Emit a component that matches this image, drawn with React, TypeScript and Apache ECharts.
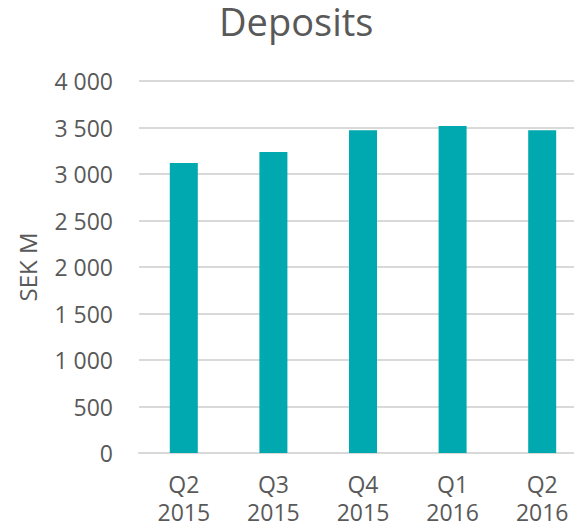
import React, { useEffect, useRef } from "react";
import * as echarts from "echarts";

const categories = ["Q2\n2015", "Q3\n2015", "Q4\n2015", "Q1\n2016", "Q2\n2016"];
const deposits = [3118, 3237, 3470, 3516, 3470];
const yTicks = { min: 0, max: 4000, interval: 500 };

const TEXT = "#595959";
const FONT = "'Open Sans', sans-serif";

export default function App() {
  const ref = useRef<HTMLDivElement>(null);
  useEffect(() => {
    if (!ref.current) return;
    const chart = echarts.init(ref.current, undefined, { renderer: "svg" });
    chart.setOption({
      animation: false,
      backgroundColor: "#ffffff",
      textStyle: { fontFamily: FONT },
      title: {
        text: "Deposits",
        left: 219,
        top: 2,
        padding: 0,
        textStyle: { fontSize: 38, fontWeight: "normal", color: TEXT, fontFamily: FONT },
      },
      grid: { left: 139, top: 81, width: 448, height: 372 },
      xAxis: {
        type: "category",
        data: categories,
        axisLine: { lineStyle: { color: "#d9d9d9", width: 2 } },
        axisTick: { show: false },
        axisLabel: { color: TEXT, fontSize: 23, lineHeight: 28, margin: 17, fontFamily: FONT },
      },
      yAxis: {
        type: "value",
        min: yTicks.min,
        max: yTicks.max,
        interval: yTicks.interval,
        name: "SEK M",
        nameLocation: "middle",
        nameGap: 100,
        nameTextStyle: { color: TEXT, fontSize: 24, fontFamily: FONT },
        axisLine: { show: false },
        axisTick: { show: false },
        splitLine: { lineStyle: { color: "#d9d9d9", width: 2 } },
        axisLabel: {
          color: TEXT,
          fontSize: 23,
          margin: 26,
          fontFamily: FONT,
          formatter: (v: number) => String(v).replace(/\B(?=(\d{3})+(?!\d))/g, " "),
        },
      },
      series: [
        {
          type: "bar",
          data: deposits,
          barWidth: 28,
          itemStyle: { color: "#00A9AF" },
        },
      ],
    });
    return () => chart.dispose();
  }, []);
  return (
    <div
      style={{
        position: "fixed",
        left: 0,
        top: 0,
        width: 574,
        height: 529,
        overflow: "hidden",
        background: "#ffffff",
      }}
    >
      <div ref={ref} style={{ width: 600, height: 529 }} />
    </div>
  );
}
